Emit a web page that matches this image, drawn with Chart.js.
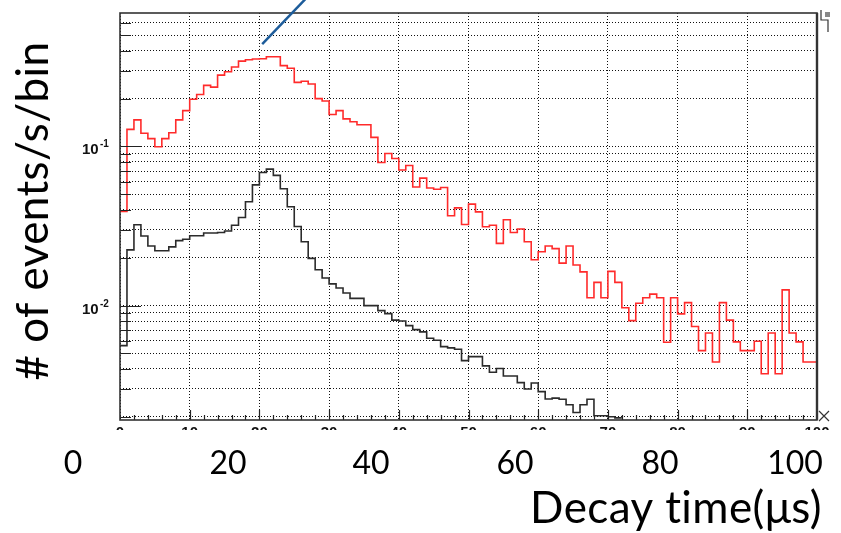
<!DOCTYPE html>
<html>
<head>
<meta charset="utf-8">
<script src="https://cdn.jsdelivr.net/npm/chart.js@4"></script>
<style>
  body { margin: 0; background: #fff; }
  canvas { display: block; }
</style>
</head>
<body>
<canvas id="chart" width="841" height="533"></canvas>
<script>
// bins are 1 us wide, starting at 0
const binStart = 0;
const binWidth = 1;

// red histogram, 100 bins (0-100 us)
const redCounts = [
  0.039, 0.128, 0.147, 0.121, 0.112, 0.0995, 0.112, 0.122, 0.147, 0.168,
  0.198, 0.212, 0.242, 0.236, 0.281, 0.295, 0.316, 0.344, 0.351, 0.355,
  0.356, 0.366, 0.366, 0.322, 0.310, 0.253, 0.257, 0.247, 0.200, 0.193,
  0.159, 0.168, 0.149, 0.143, 0.137, 0.137, 0.114, 0.0793, 0.0903, 0.0841,
  0.0711, 0.0760, 0.0556, 0.0633, 0.0548, 0.0539, 0.0552, 0.0367, 0.0411, 0.0323,
  0.0434, 0.0388, 0.0313, 0.0320, 0.0246, 0.0346, 0.0288, 0.0303, 0.0252, 0.0194,
  0.0218, 0.0237, 0.0228, 0.0185, 0.0237, 0.0180, 0.0163, 0.0112, 0.0140, 0.0112,
  0.0164, 0.0140, 0.0097, 0.00805, 0.01035, 0.0112, 0.0118, 0.0112, 0.00589, 0.0112,
  0.00887, 0.01044, 0.00739, 0.00521, 0.00673, 0.00442, 0.01044, 0.00810, 0.00592, 0.00521,
  0.00521, 0.00597, 0.00373, 0.00673, 0.00373, 0.01256, 0.00673, 0.00592, 0.00442, 0.00442
];

// black histogram, bins 0-71 (later bins fall below the axis)
const blackCounts = [
  0.0056, 0.0224, 0.0322, 0.0274, 0.0237, 0.0221, 0.0221, 0.0234, 0.0256, 0.0261,
  0.0275, 0.0275, 0.0286, 0.0286, 0.0288, 0.0294, 0.0320, 0.0358, 0.0449, 0.0574,
  0.0686, 0.0721, 0.0658, 0.0542, 0.0418, 0.0314, 0.0252, 0.0198, 0.0168, 0.0149,
  0.0137, 0.0129, 0.0120, 0.0111, 0.0111, 0.0100, 0.0100, 0.0093, 0.0089, 0.0081,
  0.0080, 0.00748, 0.00706, 0.00684, 0.00624, 0.00606, 0.00552, 0.00542, 0.00532, 0.00451,
  0.00478, 0.00478, 0.00418, 0.00381, 0.00402, 0.00361, 0.00361, 0.00328, 0.00299, 0.00326,
  0.00288, 0.00259, 0.00262, 0.00258, 0.00238, 0.00213, 0.00238, 0.00258, 0.00203, 0.00203,
  0.00200, 0.00197
];

const xMin = 0, xMax = 100;
const yMin = 0.00191, yMax = 0.69;
const xGrid = [0, 10, 20, 30, 40, 50, 60, 70, 80, 90, 100];
const yGrid = [
  0.002, 0.003, 0.004, 0.005, 0.006, 0.007, 0.008, 0.009,
  0.01, 0.02, 0.03, 0.04, 0.05, 0.06, 0.07, 0.08, 0.09,
  0.1, 0.2, 0.3, 0.4, 0.5, 0.6
];
const yDecades = [0.1, 0.01];
const bigTickLabels = ["0", "20", "40", "60", "80", "100"];
const xTitle = "Decay time(μs)";
const yTitle = "# of events/s/bin";

function histPoints(vals) {
  const pts = vals.map((v, i) => ({ x: binStart + i * binWidth, y: v }));
  const last = vals.length - 1;
  pts.push({ x: binStart + (last + 1) * binWidth, y: vals[last] });
  return pts;
}

// ROOT-like frame, inner ticks and the slide text around the plot
const rootStyle = {
  id: 'rootStyle',
  afterDraw(chart) {
    const { ctx, chartArea: a, scales: { x, y } } = chart;
    ctx.save();

    // inner tick marks
    ctx.strokeStyle = '#222';
    ctx.lineWidth = 1.2;
    ctx.beginPath();
    yGrid.forEach(v => {
      const py = Math.round(y.getPixelForValue(v)) + 0.5;
      const len = yDecades.includes(v) ? 21 : 11;
      ctx.moveTo(a.left, py);
      ctx.lineTo(a.left + len, py);
    });
    for (let v = xMin + 2; v < xMax; v += 2) {
      const px = Math.round(x.getPixelForValue(v)) + 0.5;
      const len = v % 10 === 0 ? 10 : 5;
      ctx.moveTo(px, a.bottom);
      ctx.lineTo(px, a.bottom - len);
    }
    ctx.stroke();

    // frame
    ctx.strokeStyle = '#333';
    ctx.lineWidth = 1.6;
    ctx.strokeRect(a.left, a.top, a.right - a.left, a.bottom - a.top);
    ctx.lineWidth = 2.4;
    ctx.beginPath();
    ctx.moveTo(a.right, a.top);
    ctx.lineTo(a.right, a.bottom);
    ctx.stroke();

    // y decade labels 10^-1, 10^-2
    ctx.fillStyle = '#111';
    ctx.textAlign = 'left';
    ctx.textBaseline = 'alphabetic';
    yDecades.forEach(v => {
      const py = y.getPixelForValue(v);
      const exp = Math.round(Math.log10(v));
      ctx.font = 'bold 15px "Liberation Sans"';
      ctx.fillText('10', 82, py + 8);
      ctx.font = 'bold 10px "Liberation Sans"';
      ctx.fillText(String(exp), 100, py + 1);
    });

    // original small x labels, mostly hidden under the slide labels
    ctx.save();
    ctx.beginPath();
    ctx.rect(0, a.bottom + 1, chart.width, 9);
    ctx.clip();
    ctx.font = 'bold 15px "Liberation Sans"';
    ctx.textAlign = 'center';
    ctx.textBaseline = 'top';
    xGrid.forEach(v => ctx.fillText(String(v), x.getPixelForValue(v), a.bottom + 5));
    ctx.restore();

    // big slide labels
    ctx.fillStyle = '#000';
    ctx.font = '32px Lato';
    ctx.textAlign = 'center';
    ctx.textBaseline = 'alphabetic';
    const bigX = [73, 228, 371, 515, 660, 795];
    bigTickLabels.forEach((t, i) => ctx.fillText(t, bigX[i], 474));

    ctx.letterSpacing = '0.4px';
    ctx.font = '44px Lato';
    ctx.textAlign = 'right';
    ctx.fillText(xTitle, 822, 523);

    ctx.save();
    ctx.translate(48, 211);
    ctx.rotate(-Math.PI / 2);
    ctx.textAlign = 'center';
    ctx.fillText(yTitle, 0, 0);
    ctx.restore();
    ctx.letterSpacing = '0px';

    // blue pointer line
    const sx = x.getPixelForValue(20.4), sy = y.getPixelForValue(0.44);
    ctx.strokeStyle = '#1d5c9a';
    ctx.lineWidth = 2.5;
    ctx.beginPath();
    ctx.moveTo(sx, sy);
    ctx.lineTo(sx + 47, sy - 49);
    ctx.stroke();

    // leftovers of the stats box and the close mark
    ctx.strokeStyle = '#333';
    ctx.lineWidth = 1.2;
    ctx.beginPath();
    ctx.moveTo(821, 10); ctx.lineTo(821, 20); ctx.lineTo(828, 20); ctx.lineTo(828, 32);
    ctx.moveTo(819, 411); ctx.lineTo(829, 421);
    ctx.moveTo(829, 411); ctx.lineTo(819, 421);
    ctx.stroke();
    ctx.fillStyle = '#888';
    ctx.fillRect(825, 12, 5, 5);

    ctx.restore();
  }
};

const gridStyle = { color: '#111', lineWidth: 1, drawTicks: false };

new Chart(document.getElementById('chart'), {
  type: 'line',
  data: {
    datasets: [
      {
        data: histPoints(blackCounts),
        borderColor: '#2b2b2b',
        borderWidth: 1.6,
        stepped: true,
        pointRadius: 0,
        fill: false
      },
      {
        data: histPoints(redCounts),
        borderColor: '#ff2b2b',
        borderWidth: 1.6,
        stepped: true,
        pointRadius: 0,
        fill: false
      }
    ]
  },
  options: {
    responsive: false,
    animation: false,
    layout: { padding: { left: 120, top: 13, right: 24, bottom: 113 }, autoPadding: false },
    plugins: { legend: { display: false }, tooltip: { enabled: false } },
    scales: {
      x: {
        type: 'linear',
        min: xMin,
        max: xMax,
        afterBuildTicks: s => { s.ticks = xGrid.map(v => ({ value: v })); },
        ticks: { display: false },
        grid: gridStyle,
        border: { display: false, dash: [1, 2] }
      },
      y: {
        type: 'logarithmic',
        min: yMin,
        max: yMax,
        afterBuildTicks: s => { s.ticks = yGrid.map(v => ({ value: v })); },
        ticks: { display: false },
        grid: gridStyle,
        border: { display: false, dash: [1, 2] }
      }
    }
  },
  plugins: [rootStyle]
});
</script>
</body>
</html>
